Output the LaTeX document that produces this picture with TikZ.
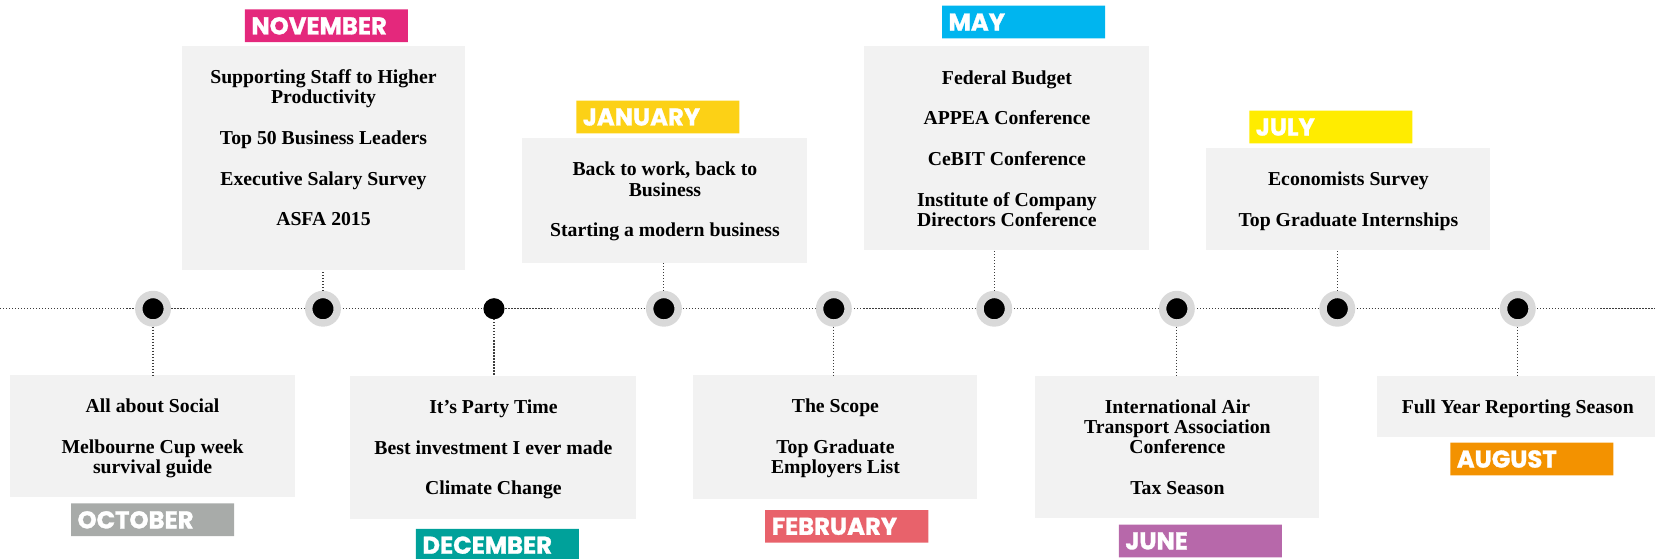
\documentclass[tikz,border=0pt]{standalone}
\usepackage{fontspec}
\setmainfont{Liberation Serif}
\newfontfamily\monthfont[BoldFeatures={FakeBold=1.2}]{Poppins}
\usetikzlibrary{shapes.misc}
\definecolor{boxgray}{HTML}{F2F2F2}
\definecolor{ringgray}{HTML}{D9D9D9}
\definecolor{dotgray}{HTML}{3C3C3C}
\definecolor{cNov}{HTML}{E4287C}
\definecolor{cJan}{HTML}{FCD116}
\definecolor{cMay}{HTML}{00B5EF}
\definecolor{cJul}{HTML}{FFEC00}
\definecolor{cOct}{HTML}{A8ABA9}
\definecolor{cDec}{HTML}{00A19A}
\definecolor{cFeb}{HTML}{E8626B}
\definecolor{cJun}{HTML}{B768AA}
\definecolor{cAug}{HTML}{F39200}
\begin{document}
\begin{tikzpicture}[x=1pt,y=-1pt,
  evbox/.style={rectangle, fill=boxgray, draw=none, inner sep=0pt, outer sep=0pt, anchor=north west},
  evtext/.style={anchor=north, align=center, inner sep=0pt, font=\fontsize{18.7}{19}\selectfont\bfseries},
  mlabel/.style={chamfered rectangle, chamfered rectangle corners=north west, chamfered rectangle sep=5pt, anchor=north west, minimum width=154.5pt, minimum height=31pt, inner sep=0pt, outer sep=0pt, draw=none},
  mtext/.style={anchor=west, inner sep=0pt, text=white, font=\monthfont\bfseries\fontsize{23}{23}\selectfont},
  dotline/.style={draw=dotgray, line width=1.1pt, dash pattern=on 1.1pt off 1.75pt},
  ring/.style={circle, draw=ringgray, line width=7pt, fill=black, minimum size=27pt, inner sep=0pt},
  dot/.style={circle, fill=black, minimum size=20pt, inner sep=0pt, outer sep=0pt},
]
\useasboundingbox (0,0) rectangle (1568,529.6);

% event boxes
\node[evbox, minimum width=269pt, minimum height=212.4pt] (nov) at (172,43.6) {};
\node[evbox, minimum width=270pt, minimum height=118pt] (jan) at (495,131) {};
\node[evbox, minimum width=270pt, minimum height=193pt] (may) at (819,44) {};
\node[evbox, minimum width=269pt, minimum height=96.5pt] (jul) at (1143,140) {};
\node[evbox, minimum width=270pt, minimum height=115pt] (oct) at (9.5,355.5) {};
\node[evbox, minimum width=271pt, minimum height=136pt] (dec) at (332,356) {};
\node[evbox, minimum width=269pt, minimum height=117.5pt] (feb) at (657,355.5) {};
\node[evbox, minimum width=269pt, minimum height=135pt] (jun) at (981,356) {};
\node[evbox, minimum width=266pt, minimum height=57.7pt] (aug) at (1305,356) {};

% event texts
\node[evtext] (novt) at ([yshift=-22.2pt]nov.north) {\strut Supporting Staff to Higher\\Productivity\\[19.5pt]Top 50 Business Leaders\\[19.5pt]Executive Salary Survey\\[19.5pt]ASFA 2015};
\node[evtext] (jant) at ([yshift=-22.2pt]jan.north) {\strut Back to work, back to\\Business\\[19.5pt]Starting a modern business};
\node[evtext] (mayt) at ([yshift=-22.2pt]may.north) {\strut Federal Budget\\[19.5pt]APPEA Conference\\[19.5pt]CeBIT Conference\\[19.5pt]Institute of Company\\Directors Conference};
\node[evtext] (jult) at ([yshift=-22.2pt]jul.north) {\strut Economists Survey\\[19.5pt]Top Graduate Internships};
\node[evtext] (octt) at ([yshift=-22.2pt]oct.north) {\strut All about Social\\[19.5pt]Melbourne Cup week\\survival guide};
\node[evtext] (dect) at ([yshift=-22.2pt]dec.north) {\strut It’s Party Time\\[19.5pt]Best investment I ever made\\[19.5pt]Climate Change};
\node[evtext] (febt) at ([yshift=-22.2pt]feb.north) {\strut The Scope\\[19.5pt]Top Graduate\\Employers List};
\node[evtext] (junt) at ([yshift=-22.2pt]jun.north) {\strut International Air\\Transport Association\\Conference\\[19.5pt]Tax Season};
\node[evtext] (augt) at ([yshift=-22.2pt]aug.north) {\strut Full Year Reporting Season};

% month labels
\node[mlabel, fill=cNov] (novl) at (232,9) {};
\node[mlabel, fill=cJan] (janl) at (546,95.4) {};
\node[mlabel, fill=cMay] (mayl) at (892.5,5.4) {};
\node[mlabel, fill=cJul] (jull) at (1183.6,104.9) {};
\node[mlabel, fill=cOct] (octl) at (67.3,477) {};
\node[mlabel, fill=cDec] (decl) at (394,501) {};
\node[mlabel, fill=cFeb] (febl) at (725,483.2) {};
\node[mlabel, fill=cJun] (junl) at (1060,497) {};
\node[mlabel, fill=cAug] (augl) at (1374,419.4) {};
\node[mtext] at ([xshift=6pt]novl.west) {NOVEMBER};
\node[mtext] at ([xshift=6pt]janl.west) {JANUARY};
\node[mtext] at ([xshift=6pt]mayl.west) {MAY};
\node[mtext] at ([xshift=6pt]jull.west) {JULY};
\node[mtext] at ([xshift=6pt]octl.west) {OCTOBER};
\node[mtext] at ([xshift=6pt]decl.west) {DECEMBER};
\node[mtext] at ([xshift=6pt]febl.west) {FEBRUARY};
\node[mtext] at ([xshift=6pt]junl.west) {JUNE};
\node[mtext] at ([xshift=6pt]augl.west) {AUGUST};

% timeline
\coordinate (tl) at (0,292.5);
\coordinate (tr) at (1568,292.5);
\draw[dotline] (tl) -- (tr);

\node[ring] (c1) at (145,292.5) {};
\node[ring] (c2) at (306,292.5) {};
\node[dot]  (c3) at (468,292.5) {};
\node[ring] (c4) at (629,292.5) {};
\node[ring] (c5) at (790,292.5) {};
\node[ring] (c6) at (942,292.5) {};
\node[ring] (c7) at (1115,292.5) {};
\node[ring] (c8) at (1267,292.5) {};
\node[ring] (c9) at (1438,292.5) {};

% connectors
\draw[dotline] (c1) -- (c1 |- oct.north);
\draw[dotline] (c2) -- (c2 |- nov.south);
\draw[dotline] (c3) -- (c3 |- dec.north);
\draw[dotline] (c4) -- (c4 |- jan.south);
\draw[dotline] (c5) -- (c5 |- feb.north);
\draw[dotline] (c6) -- (c6 |- may.south);
\draw[dotline] (c7) -- (c7 |- jun.north);
\draw[dotline] (c8) -- (c8 |- jul.south);
\draw[dotline] (c9) -- (c9 |- aug.north);
\end{tikzpicture}
\end{document}
